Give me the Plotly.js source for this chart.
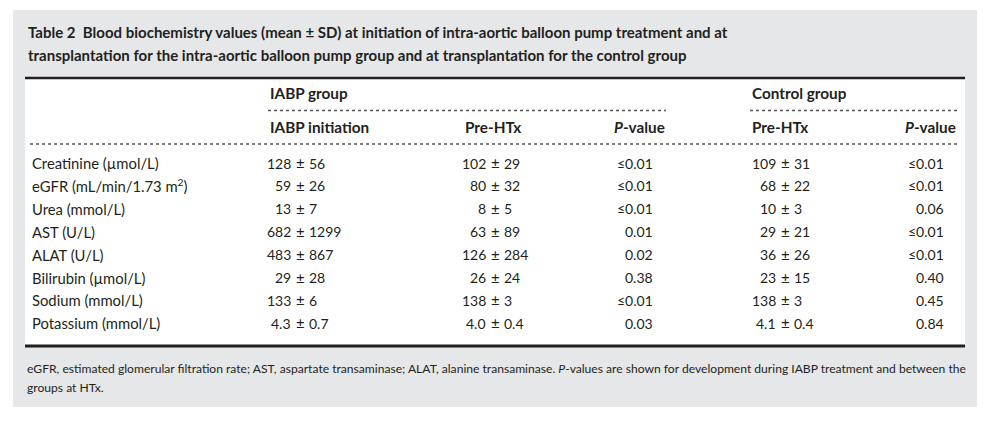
<!DOCTYPE html>
<html>
<head>
<meta charset="utf-8">
<script src="https://cdn.plot.ly/plotly-3.0.1.min.js"></script>
<style>html,body{margin:0;padding:0;background:#fff;}#chart{width:996px;height:427px;}</style>
</head>
<body>
<div id="chart"></div>
<script>
// ---- Data ----
const titleLines = [
  "<b>Table 2\u00a0 Blood biochemistry values (mean ± SD) at initiation of intra-aortic balloon pump treatment and at</b>",
  "<b>transplantation for the intra-aortic balloon pump group and at transplantation for the control group</b>"
];
const groupHeaders = ["IABP group", "Control group"];
const subHeaders = ["IABP initiation", "Pre-HTx", "<i>P</i>-value", "Pre-HTx", "<i>P</i>-value"];
const rowLabels = [
  "Creatinine (µmol/L)",
  "eGFR (mL/min/1.73 m<sup>2</sup>)",
  "Urea (mmol/L)",
  "AST (U/L)",
  "ALAT (U/L)",
  "Bilirubin (µmol/L)",
  "Sodium (mmol/L)",
  "Potassium (mmol/L)"
];
const iabpInitMean = ["128", "59", "13", "682", "483", "29", "133", "4.3"];
const iabpInitSD   = ["56", "26", "7", "1299", "867", "28", "6", "0.7"];
const iabpPreMean  = ["102", "80", "8", "63", "126", "26", "138", "4.0"];
const iabpPreSD    = ["29", "32", "5", "89", "284", "24", "3", "0.4"];
const iabpP        = ["≤0.01", "≤0.01", "≤0.01", "0.01", "0.02", "0.38", "≤0.01", "0.03"];
const ctrlPreMean  = ["109", "68", "10", "29", "36", "23", "138", "4.1"];
const ctrlPreSD    = ["31", "22", "3", "21", "26", "15", "3", "0.4"];
const ctrlP        = ["≤0.01", "≤0.01", "0.06", "≤0.01", "≤0.01", "0.40", "0.45", "0.84"];
const footnoteLines = [
  "eGFR, estimated glomerular filtration rate; AST, aspartate transaminase; ALAT, alanine transaminase. <i>P</i>-values are shown for development during IABP treatment and between the",
  "groups at HTx."
];

// ---- Layout constants ----
const TXT = "#231f20";
const BODY_FONT = "Lato, 'Open Sans', sans-serif";
const rowY0 = 163, rowStep = 22.9;
const pmCols = [300, 495, 785];
const pCols = [655, 946];
const LABEL_SIZE = 14.8, NUM_SIZE = 14, HEAD_SIZE = 15.3;

const annotations = [];
function ann(x, y, text, anchor, size, color) {
  annotations.push({
    x: x, y: y, xref: "x", yref: "y", text: text, showarrow: false,
    xanchor: anchor, yanchor: "middle",
    font: {family: BODY_FONT, size: size, color: color || TXT}
  });
}

titleLines.forEach((t, i) => ann(26, 32 + i * 23, t, "left", 15));

ann(268, 93, "<b>" + groupHeaders[0] + "</b>", "left", HEAD_SIZE);
ann(750, 93, "<b>" + groupHeaders[1] + "</b>", "left", HEAD_SIZE);
ann(268, 127, "<b>" + subHeaders[0] + "</b>", "left", HEAD_SIZE);
ann(463, 127, "<b>" + subHeaders[1] + "</b>", "left", HEAD_SIZE);
ann(667, 127, "<b>" + subHeaders[2] + "</b>", "right", HEAD_SIZE);
ann(750, 127, "<b>" + subHeaders[3] + "</b>", "left", HEAD_SIZE);
ann(958, 127, "<b>" + subHeaders[4] + "</b>", "right", HEAD_SIZE);

const meanCols = [iabpInitMean, iabpPreMean, ctrlPreMean];
const sdCols = [iabpInitSD, iabpPreSD, ctrlPreSD];
const pValCols = [iabpP, ctrlP];

rowLabels.forEach((lab, i) => {
  const y = rowY0 + i * rowStep;
  ann(30, y, lab, "left", LABEL_SIZE);
  meanCols.forEach((col, c) => {
    const px = pmCols[c];
    ann(px - 7, y, col[i], "right", NUM_SIZE);
    ann(px, y, "±", "center", NUM_SIZE + 1);
    ann(px + 7, y, sdCols[c][i], "left", NUM_SIZE);
  });
  pValCols.forEach((col, c) => ann(pCols[c], y, col[i], "right", NUM_SIZE));
});

footnoteLines.forEach((t, i) => ann(25, 368 + i * 19, t, "left", 12.1));

const dotLine = {color: "#555555", width: 1.3, dash: "dot"};
const shapes = [
  {type: "rect", xref: "x", yref: "y", x0: 13, x1: 977, y0: 10, y1: 407, fillcolor: "#e6e7e9", line: {width: 0}, layer: "below"},
  {type: "rect", xref: "x", yref: "y", x0: 25, x1: 965, y0: 78, y1: 346, fillcolor: "#ffffff", line: {width: 0}, layer: "below"},
  {type: "line", xref: "x", yref: "y", x0: 25, x1: 965, y0: 78, y1: 78, line: {color: TXT, width: 2.5}},
  {type: "line", xref: "x", yref: "y", x0: 25, x1: 965, y0: 346, y1: 346, line: {color: TXT, width: 3}},
  {type: "line", xref: "x", yref: "y", x0: 268, x1: 666, y0: 110.5, y1: 110.5, line: dotLine},
  {type: "line", xref: "x", yref: "y", x0: 750, x1: 957, y0: 110.5, y1: 110.5, line: dotLine},
  {type: "line", xref: "x", yref: "y", x0: 30, x1: 957, y0: 144, y1: 144, line: dotLine}
];

const layout = {
  width: 996, height: 427,
  margin: {l: 0, r: 0, t: 0, b: 0, pad: 0},
  paper_bgcolor: "#ffffff", plot_bgcolor: "rgba(0,0,0,0)",
  xaxis: {range: [0, 996], visible: false, fixedrange: true},
  yaxis: {range: [427, 0], visible: false, fixedrange: true},
  showlegend: false,
  shapes: shapes,
  annotations: annotations
};

Plotly.newPlot("chart", [{x: [], y: [], type: "scatter", mode: "markers", hoverinfo: "skip"}], layout, {displayModeBar: false, staticPlot: true});
</script>
</body>
</html>
